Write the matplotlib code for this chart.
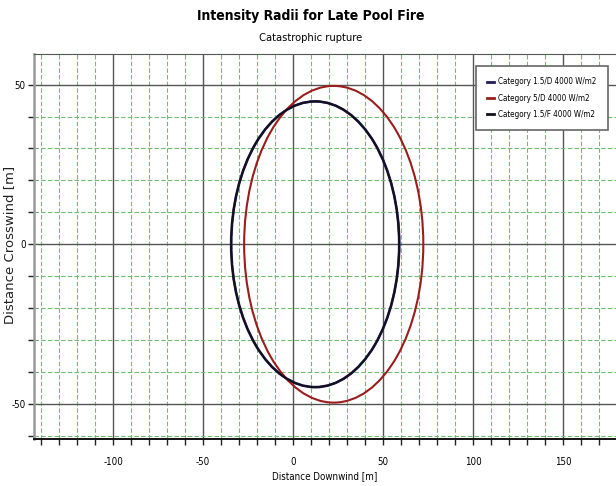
import numpy as np
import matplotlib.pyplot as plt
from matplotlib.patches import Ellipse
from matplotlib.ticker import MultipleLocator
from matplotlib.lines import Line2D

# Ellipse parameters (metres)
labels = ['Category 1.5/D 4000 W/m2', 'Category 5/D 4000 W/m2', 'Category 1.5/F 4000 W/m2']
centre_x = [12.3, 22.6, 12.3]
centre_y = [0.0, 0.0, 0.0]
widths = [93.4, 99.6, 93.4]
heights = [89.5, 99.2, 89.5]
colors = ['#221c5c', '#9b1c1c', '#140f1c']
lws = [1.9, 1.5, 1.4]

plt.rcParams['font.family'] = ['DejaVu Sans']
plt.rcParams['font.stretch'] = 'condensed'
plt.rcParams['axes.unicode_minus'] = False

fig = plt.figure(figsize=(6.16, 4.86), dpi=100)
ax = fig.add_axes([0.0552, 0.0967, 0.9448, 0.7922])

for cx, cy, w, h, c, lw in zip(centre_x, centre_y, widths, heights, colors, lws):
    ax.add_patch(Ellipse((cx, cy), w, h, fill=False, edgecolor=c, linewidth=lw, zorder=3))

ax.set_xlim(-144, 179.5)
ax.set_ylim(-61, 59.6)

ax.xaxis.set_major_locator(MultipleLocator(50))
ax.xaxis.set_minor_locator(MultipleLocator(10))
ax.yaxis.set_major_locator(MultipleLocator(50))
ax.yaxis.set_minor_locator(MultipleLocator(10))

ax.grid(which='minor', color='#72bb72', linestyle=(0, (4, 2)), linewidth=0.8)
ax.grid(which='major', color='#555555', linestyle='-', linewidth=1.0)
ax.set_axisbelow(True)

ax.tick_params(which='both', direction='out', length=4, width=1, color='#222222',
               labelsize=7, pad=2)
ax.tick_params(axis='x', pad=9)

ax.spines['right'].set_visible(False)
ax.spines['left'].set_color('#999999')
ax.spines['left'].set_linewidth(1.8)
ax.spines['bottom'].set_color('#111111')
ax.spines['bottom'].set_linewidth(1.4)
ax.spines['top'].set_color('#555555')

ax.set_xlabel('Distance Downwind [m]', fontsize=7, labelpad=3)
ax.set_ylabel('Distance Crosswind [m]', fontsize=9.5, fontstretch='normal', color='#222222')
ax.yaxis.set_label_coords(-0.031, 0.504)

fig.text(0.505, 0.968, 'Intensity Radii for Late Pool Fire', ha='center', va='center',
         fontsize=10, fontweight='bold')
fig.text(0.505, 0.922, 'Catastrophic rupture', ha='center', va='center', fontsize=8)

handles = [Line2D([], [], color=c, linewidth=2) for c in colors]
leg = ax.legend(handles, labels, loc='upper right', bbox_to_anchor=(0.993, 0.979),
                fontsize=5.8, handlelength=0.9, handletextpad=0.5, borderpad=1.4,
                labelspacing=0.9, fancybox=False, framealpha=1)
leg.get_frame().set_edgecolor('#666666')
leg.get_frame().set_linewidth(1.2)

fig.savefig('out.png', dpi=100)
